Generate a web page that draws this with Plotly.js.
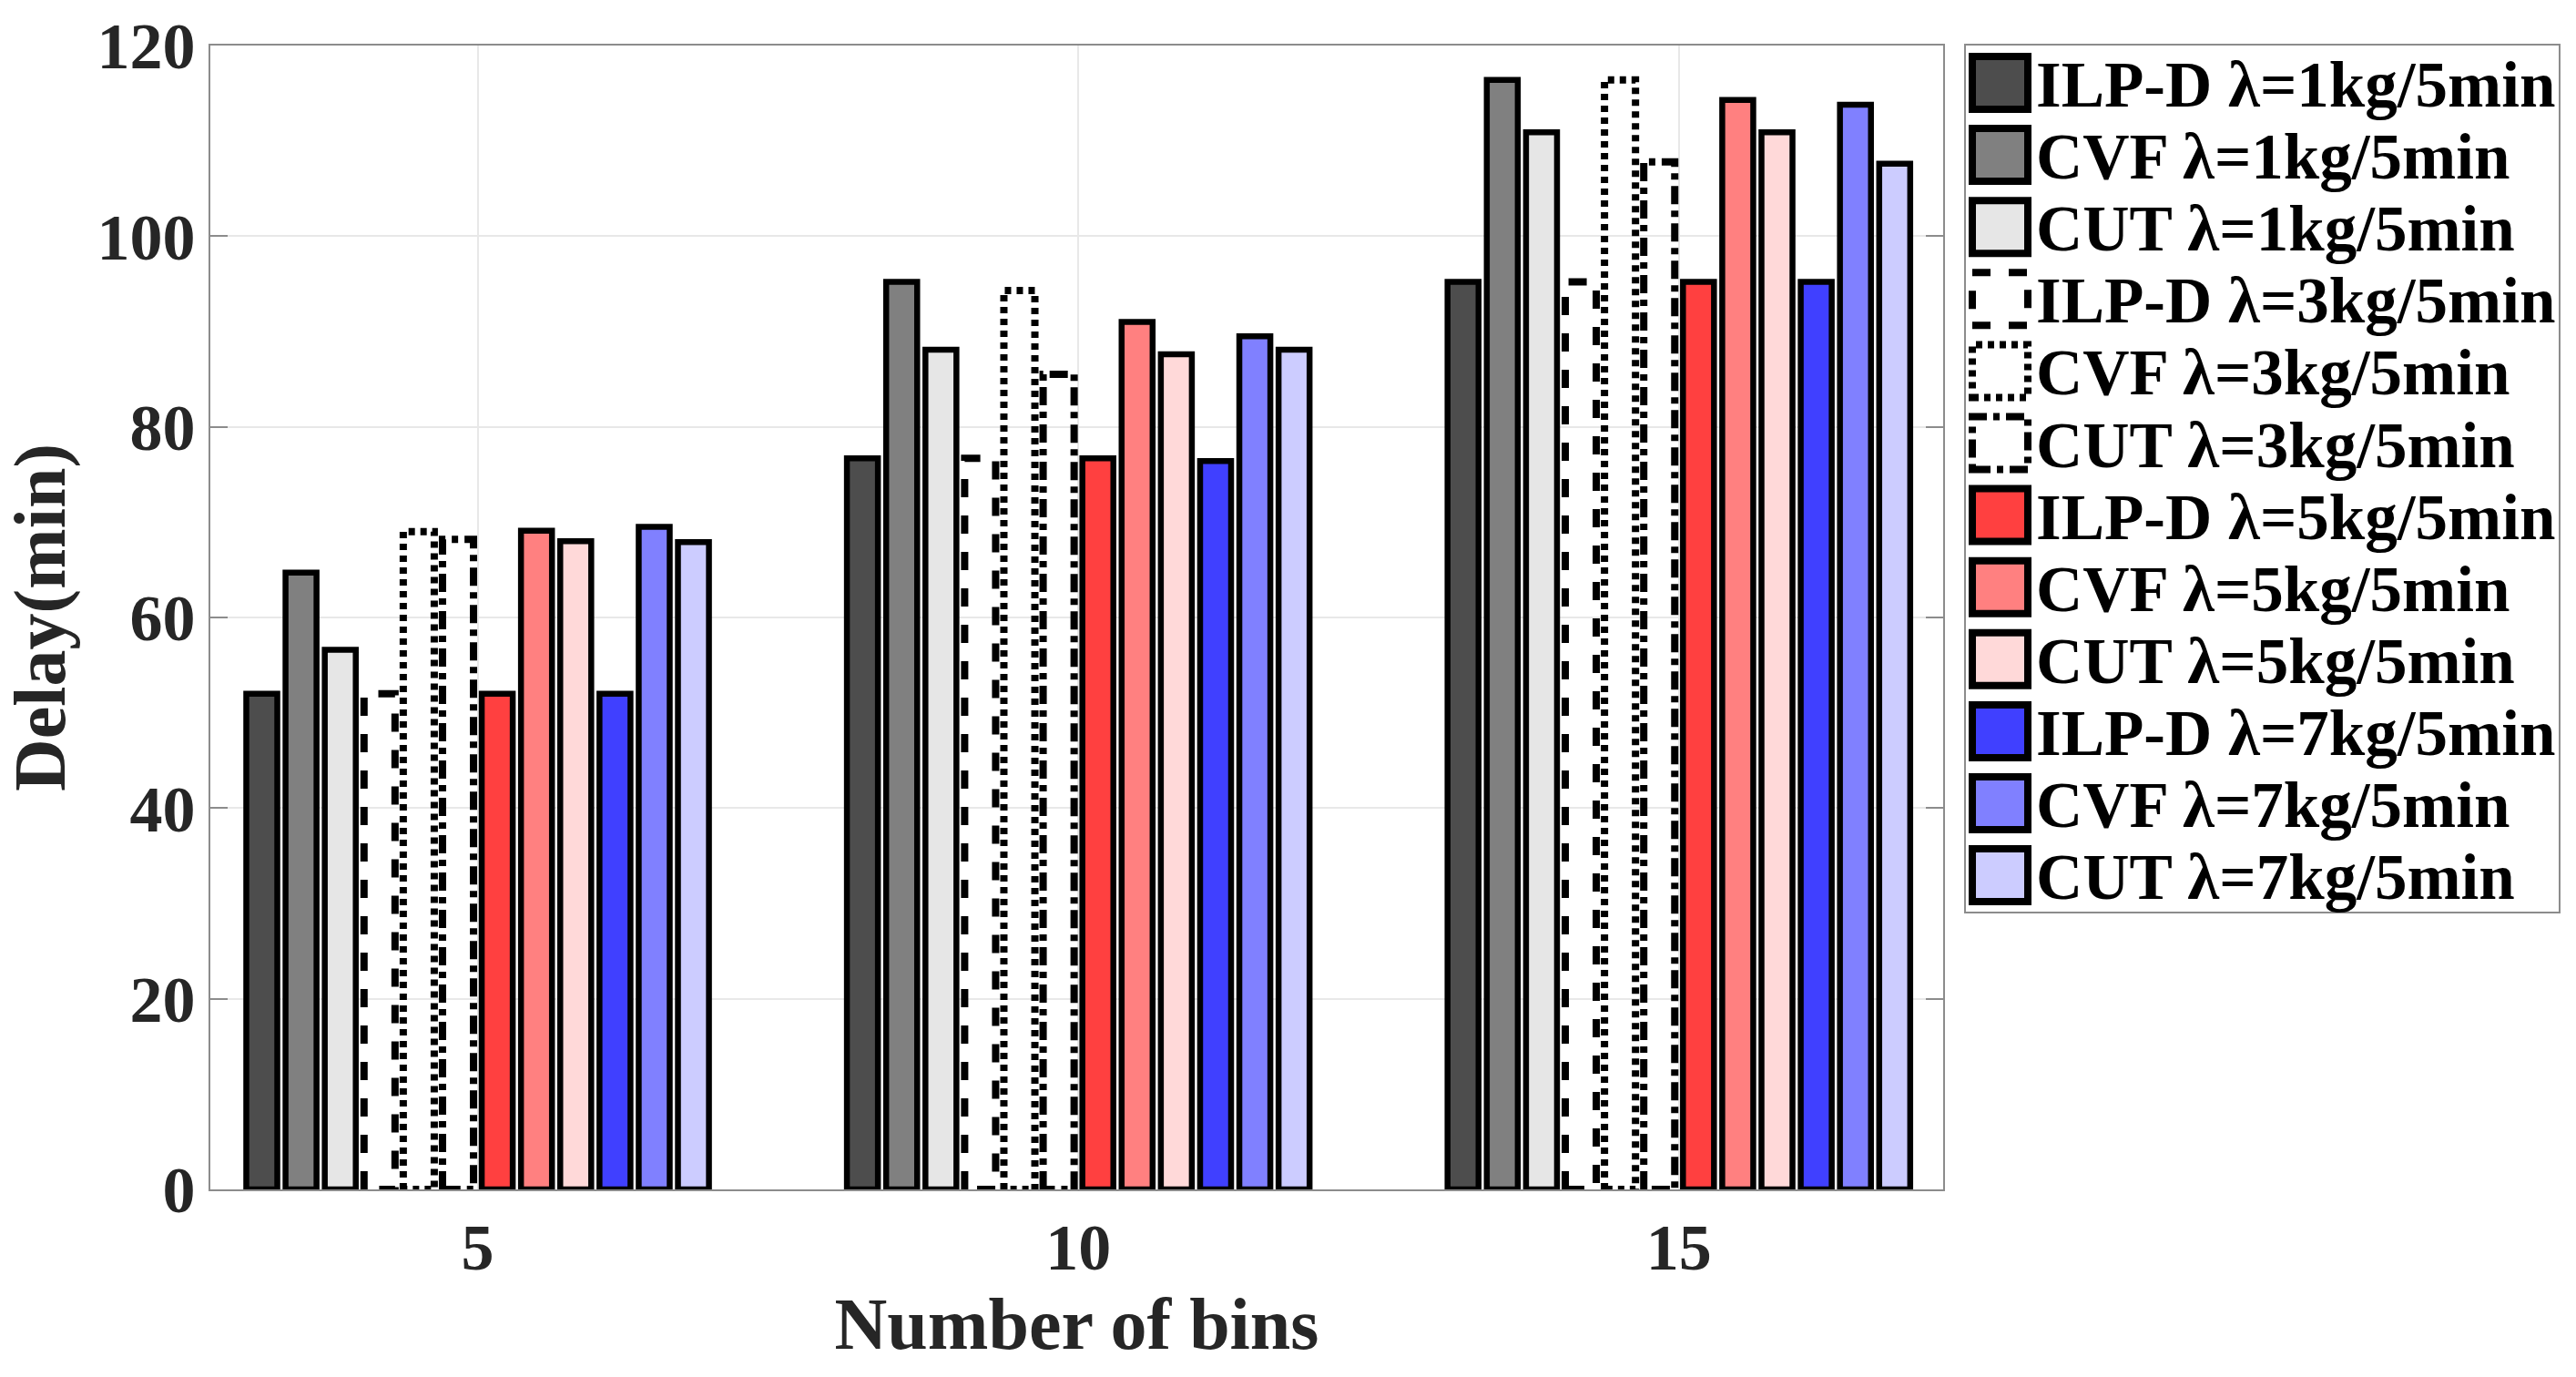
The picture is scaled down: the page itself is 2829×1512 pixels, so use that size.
<!DOCTYPE html>
<html>
<head>
<meta charset="utf-8">
<script src="https://cdn.plot.ly/plotly-3.0.1.min.js"></script>
<style>
    html, body { margin: 0; padding: 0; background: #fff; }
    #chart { width: 2829px; height: 1512px; }
</style>
</head>
<body>
<div id="chart"></div>
<script>
// number of bins on the x axis
const bins = ['5', '10', '15'];

// delay (min) per method and lambda
const ilpd1 = [52, 76.7, 95.2];
const cvf1 = [64.7, 95.2, 116.4];
const cut1 = [56.6, 88.1, 110.9];
const ilpd3 = [52, 76.7, 95.2];
const cvf3 = [69, 94.3, 116.4];
const cut3 = [68.2, 85.5, 107.8];
const ilpd5 = [52, 76.7, 95.2];
const cvf5 = [69.1, 91, 114.3];
const cut5 = [68, 87.6, 110.9];
const ilpd7 = [52, 76.4, 95.2];
const cvf7 = [69.5, 89.5, 113.8];
const cut7 = [67.9, 88.1, 107.6];

const seriesNames = [
    'ILP-D λ=1kg/5min', 'CVF λ=1kg/5min', 'CUT λ=1kg/5min',
    'ILP-D λ=3kg/5min', 'CVF λ=3kg/5min', 'CUT λ=3kg/5min',
    'ILP-D λ=5kg/5min', 'CVF λ=5kg/5min', 'CUT λ=5kg/5min',
    'ILP-D λ=7kg/5min', 'CVF λ=7kg/5min', 'CUT λ=7kg/5min'
];
const seriesValues = [ilpd1, cvf1, cut1, ilpd3, cvf3, cut3, ilpd5, cvf5, cut5, ilpd7, cvf7, cut7];

// styles: fill colour, or a dash pattern for the outlined-only series
const styles = [
    {color: '#4d4d4d'}, {color: '#808080'}, {color: '#e6e6e6'},
    {dash: '20px,20px'}, {dash: '7px,6px'}, {dash: '20px,7px,7px,7px'},
    {color: '#ff4040'}, {color: '#ff8080'}, {color: '#ffd9d9'},
    {color: '#4040ff'}, {color: '#8080ff'}, {color: '#ccccff'}
];

const FONT = 'Liberation Serif, Times New Roman, serif';
const L = 231, R = 2134, T = 50, B = 1306;
const W = 2829, H = 1512;

const groupWidth = 0.784;
const slot = groupWidth / seriesValues.length;
const barWidth = slot * 0.79;

const xs = bins.map((b, i) => i);
const traces = [];

seriesValues.forEach((values, k) => {
    const offset = -groupWidth / 2 + k * slot + (slot - barWidth) / 2;
    const st = styles[k];
    if (st.color) {
        traces.push({
            type: 'bar',
            name: seriesNames[k],
            x: xs,
            y: values,
            offset: offset,
            width: barWidth,
            marker: {color: st.color, line: {color: '#000', width: 6.5}},
            showlegend: false,
            hoverinfo: 'name+y'
        });
    } else {
        // dashed outline: closed rectangle path per bin
        const px = [], py = [];
        values.forEach((v, i) => {
            const x0 = i + offset, x1 = x0 + barWidth;
            px.push(x0, x0, x1, x1, x0, null);
            py.push(0, v, v, 0, 0, null);
        });
        traces.push({
            type: 'scatter',
            mode: 'lines',
            name: seriesNames[k],
            x: px,
            y: py,
            line: {color: '#000', width: 8, dash: st.dash},
            showlegend: false,
            hoverinfo: 'name+y'
        });
    }
});

// hand-drawn legend (big square symbols, dashed outlines)
const toX = p => (p - L) / (R - L);
const toY = p => (B - p) / (B - T);
const shapes = [{
    type: 'rect', xref: 'paper', yref: 'paper',
    x0: toX(2158), x1: toX(2811), y0: toY(49), y1: toY(1002),
    line: {color: '#8c8c8c', width: 2}, fillcolor: '#fff', layer: 'below'
}];
const annotations = [];
seriesNames.forEach((name, k) => {
    const cy = 91 + k * 79.1;
    const st = styles[k];
    shapes.push({
        type: 'rect', xref: 'paper', yref: 'paper',
        x0: toX(2166), x1: toX(2227), y0: toY(cy + 29), y1: toY(cy - 29),
        fillcolor: st.color || 'rgba(0,0,0,0)',
        line: {color: '#000', width: 8, dash: st.dash || 'solid'}
    });
    annotations.push({
        xref: 'paper', yref: 'paper',
        x: toX(2234), y: toY(cy + 2),
        xanchor: 'left', yanchor: 'middle',
        text: name, showarrow: false,
        font: {family: FONT, size: 71, color: '#000', weight: 'bold'}
    });
});

const layout = {
    width: W,
    height: H,
    margin: {l: L, r: W - R, t: T, b: H - B},
    paper_bgcolor: '#fff',
    plot_bgcolor: '#fff',
    barmode: 'overlay',
    showlegend: false,
    font: {family: FONT, size: 70, color: '#262626', weight: 'bold'},
    xaxis: {
        range: [-0.445, 2.44],
        tickvals: xs,
        ticktext: bins,
        showgrid: true,
        gridcolor: '#e8e8e8',
        gridwidth: 2,
        zeroline: false,
        showline: true,
        linecolor: '#8c8c8c',
        linewidth: 2,
        mirror: true,
        ticks: '',
        tickfont: {family: FONT, size: 72, color: '#262626', weight: 'bold'},
        title: {
            text: 'Number of bins',
            standoff: 10,
            font: {family: FONT, size: 80, color: '#262626', weight: 'bold'}
        }
    },
    yaxis: {
        range: [0, 120],
        dtick: 20,
        showgrid: true,
        gridcolor: '#e8e8e8',
        gridwidth: 2,
        zeroline: false,
        showline: true,
        linecolor: '#8c8c8c',
        linewidth: 2,
        mirror: 'ticks',
        ticks: 'inside',
        ticklen: 19,
        tickwidth: 2,
        tickcolor: '#8c8c8c',
        tickfont: {family: FONT, size: 72, color: '#262626', weight: 'bold'},
        title: {
            text: 'Delay(min)',
            standoff: 20,
            font: {family: FONT, size: 80, color: '#262626', weight: 'bold'}
        }
    },
    shapes: shapes,
    annotations: annotations
};

Plotly.newPlot('chart', traces, layout, {displayModeBar: false, staticPlot: true});
</script>
</body>
</html>
